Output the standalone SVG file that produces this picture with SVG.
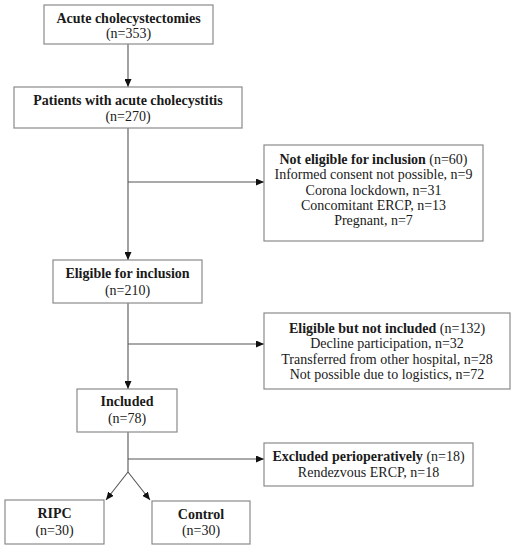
<svg xmlns="http://www.w3.org/2000/svg" width="517" height="550" viewBox="0 0 517 550">
<defs>
<marker id="ah" markerUnits="userSpaceOnUse" markerWidth="8" markerHeight="7" refX="8" refY="3.5" orient="auto">
<path d="M0,0 L8,3.5 L0,7 z" fill="#111"/>
</marker>
</defs>
<style>
rect{fill:#fff;stroke:#8a8a8a;stroke-width:1.2}
text{font-family:'Liberation Serif','DejaVu Serif',serif;font-size:14px;fill:#1a1a1a;text-anchor:middle}
.b{font-weight:bold}
#connectors line{stroke:#555;stroke-width:1.1;fill:none}
.a{marker-end:url(#ah)}
</style>
<rect x="0" y="0" width="517" height="550" style="fill:#fff;stroke:none"/>
<g id="connectors">
<line class="a" x1="128" y1="44" x2="128" y2="87"/>
<line class="a" x1="128" y1="128" x2="128" y2="260"/>
<line class="a" x1="128" y1="182" x2="264" y2="182"/>
<line class="a" x1="128" y1="303" x2="128" y2="389"/>
<line class="a" x1="128" y1="344" x2="264" y2="344"/>
<line x1="128" y1="432" x2="128" y2="472"/>
<line class="a" x1="128" y1="459" x2="264" y2="459"/>
<line class="a" x1="128" y1="472" x2="106" y2="500"/>
<line class="a" x1="128" y1="472" x2="150" y2="500"/>
</g>
<g font-family="Liberation Serif, DejaVu Serif, serif">
<g id="n1">
<rect x="44" y="5" width="169" height="39"/>
<text x="128.5" y="23" class="b">Acute cholecystectomies</text>
<text x="128.5" y="38">(n=353)</text>
</g>
<g id="n2">
<rect x="14" y="87" width="228" height="41"/>
<text x="128" y="105" class="b">Patients with acute cholecystitis</text>
<text x="128" y="121">(n=270)</text>
</g>
<g id="n3">
<rect x="264" y="145" width="219" height="96"/>
<text x="373.5" y="164"><tspan class="b">Not eligible for inclusion</tspan> (n=60)</text>
<text x="373.5" y="179">Informed consent not possible, n=9</text>
<text x="373.5" y="195">Corona lockdown, n=31</text>
<text x="373.5" y="210">Concomitant ERCP, n=13</text>
<text x="373.5" y="225">Pregnant, n=7</text>
</g>
<g id="n4">
<rect x="53" y="260" width="149" height="43"/>
<text x="127.5" y="278" class="b">Eligible for inclusion</text>
<text x="127.5" y="295">(n=210)</text>
</g>
<g id="n5">
<rect x="264" y="313" width="246" height="76"/>
<text x="387" y="333"><tspan class="b">Eligible but not included</tspan> (n=132)</text>
<text x="387" y="348">Decline participation, n=32</text>
<text x="387" y="364">Transferred from other hospital, n=28</text>
<text x="387" y="379">Not possible due to logistics, n=72</text>
</g>
<g id="n6">
<rect x="77" y="389" width="100" height="43"/>
<text x="127" y="406" class="b">Included</text>
<text x="127" y="423">(n=78)</text>
</g>
<g id="n7">
<rect x="264" y="443" width="209" height="43"/>
<text x="368.5" y="461"><tspan class="b">Excluded perioperatively</tspan> (n=18)</text>
<text x="368.5" y="477">Rendezvous ERCP, n=18</text>
</g>
<g id="n8">
<rect x="5" y="500" width="99" height="44"/>
<text x="54.5" y="518" class="b">RIPC</text>
<text x="54.5" y="535">(n=30)</text>
</g>
<g id="n9">
<rect x="152" y="501" width="98" height="43"/>
<text x="201" y="519" class="b">Control</text>
<text x="201" y="535">(n=30)</text>
</g>
</g>
</svg>
